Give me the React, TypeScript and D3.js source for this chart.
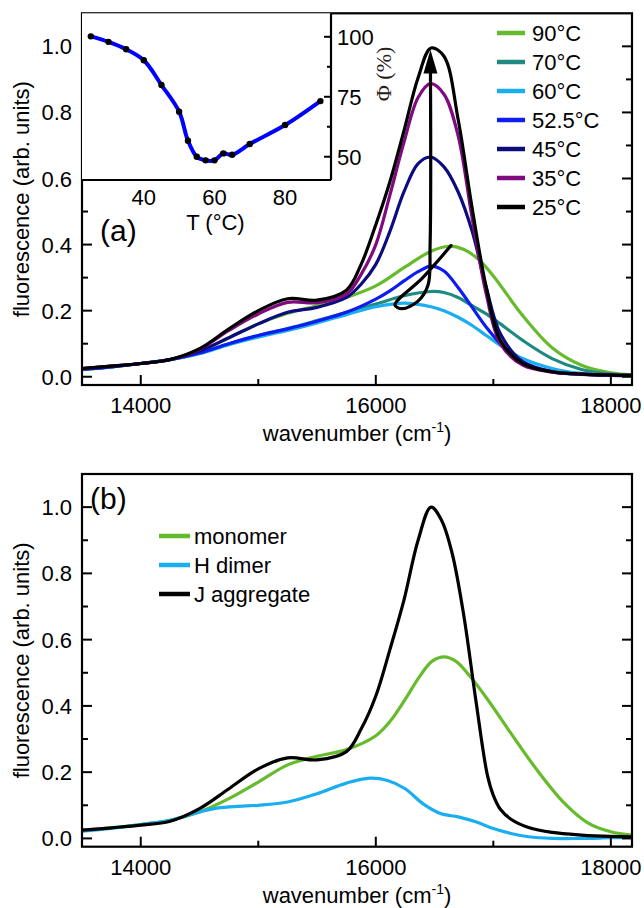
import React from "react";
import * as d3 from "d3";

type Pt = [number, number];

// ---------- data (wavenumber cm^-1, fluorescence arb. units) ----------
const s90: Pt[] = [[13500,0.022],[13750,0.03],[14000,0.04],[14250,0.052],[14500,0.076],[14750,0.118],[15000,0.16],[15250,0.192],[15500,0.215],[15750,0.24],[16000,0.275],[16240,0.33],[16470,0.38],[16620,0.395],[16750,0.385],[16875,0.355],[17000,0.305],[17250,0.185],[17500,0.088],[17750,0.035],[18000,0.012],[18180,0.006]];
const s70: Pt[] = [[13500,0.022],[13750,0.03],[14000,0.04],[14250,0.052],[14500,0.072],[14750,0.1],[15000,0.125],[15250,0.146],[15500,0.17],[15750,0.195],[16000,0.22],[16240,0.245],[16470,0.258],[16580,0.255],[16700,0.24],[16820,0.215],[16940,0.19],[17060,0.16],[17250,0.11],[17500,0.055],[17750,0.022],[18000,0.008],[18180,0.005]];
const s60: Pt[] = [[13500,0.022],[13750,0.03],[14000,0.04],[14250,0.052],[14500,0.07],[14750,0.097],[15000,0.12],[15250,0.14],[15500,0.163],[15750,0.188],[16000,0.212],[16240,0.223],[16470,0.212],[16580,0.2],[16700,0.18],[16820,0.155],[16940,0.125],[17060,0.095],[17250,0.055],[17500,0.025],[17750,0.01],[18000,0.005],[18180,0.004]];
const s525: Pt[] = [[13500,0.022],[13750,0.03],[14000,0.04],[14250,0.052],[14500,0.072],[14750,0.1],[15000,0.125],[15250,0.145],[15500,0.168],[15750,0.195],[16000,0.235],[16120,0.26],[16240,0.29],[16360,0.318],[16470,0.335],[16580,0.32],[16700,0.27],[16820,0.21],[16940,0.15],[17060,0.1],[17250,0.045],[17500,0.015],[17750,0.007],[18000,0.004],[18180,0.003]];
const s45: Pt[] = [[13500,0.025],[13750,0.032],[14000,0.04],[14250,0.052],[14500,0.078],[14750,0.118],[15000,0.16],[15250,0.195],[15500,0.21],[15750,0.24],[15875,0.28],[16000,0.34],[16120,0.44],[16240,0.56],[16360,0.645],[16465,0.665],[16580,0.635],[16700,0.56],[16820,0.44],[16940,0.27],[17060,0.13],[17250,0.045],[17500,0.015],[17750,0.008],[18000,0.005],[18180,0.004]];
const s35: Pt[] = [[13500,0.025],[13750,0.032],[14000,0.04],[14250,0.052],[14500,0.083],[14750,0.14],[15000,0.19],[15250,0.225],[15500,0.224],[15750,0.25],[15875,0.31],[16000,0.4],[16120,0.55],[16240,0.71],[16360,0.845],[16465,0.887],[16580,0.855],[16700,0.73],[16820,0.48],[16940,0.25],[17060,0.1],[17250,0.035],[17500,0.014],[17750,0.008],[18000,0.005],[18180,0.004]];
const s25: Pt[] = [[13500,0.025],[13750,0.032],[14000,0.04],[14250,0.052],[14500,0.085],[14750,0.145],[15000,0.2],[15250,0.236],[15500,0.232],[15750,0.262],[15875,0.34],[16000,0.46],[16120,0.59],[16240,0.745],[16360,0.905],[16470,0.995],[16580,0.97],[16700,0.78],[16820,0.51],[16940,0.27],[17060,0.11],[17250,0.04],[17500,0.015],[17750,0.008],[18000,0.005],[18180,0.004]];

const topLabels = ["90°C", "70°C", "60°C", "52.5°C", "45°C", "35°C", "25°C"];
const topColors = ["#66bb2c", "#1f8a82", "#1aaef0", "#0d1cf0", "#0c0c80", "#800a80", "#000000"];
const topData = [s90, s70, s60, s525, s45, s35, s25];

// annotation arrow path (data coordinates)
const arrowPath: Pt[] = [[16640,0.397],[16400,0.3],[16163,0.217],[16223,0.206],[16359,0.229],[16444,0.277],[16462,0.4],[16465,0.93]];
const arrowTip: Pt = [16465, 0.99];

// bottom panel
const monomer: Pt[] = [[13500,0.025],[13750,0.032],[14000,0.042],[14250,0.055],[14500,0.08],[14750,0.12],[15000,0.17],[15250,0.222],[15500,0.248],[15750,0.268],[16000,0.31],[16125,0.355],[16250,0.42],[16375,0.49],[16480,0.535],[16580,0.548],[16680,0.535],[16800,0.49],[16950,0.42],[17125,0.33],[17375,0.205],[17600,0.108],[17800,0.048],[18000,0.02],[18180,0.01]];
const hDimer: Pt[] = [[13500,0.022],[13750,0.03],[14000,0.042],[14250,0.055],[14500,0.08],[14625,0.09],[14750,0.095],[15000,0.1],[15250,0.11],[15500,0.135],[15750,0.167],[15950,0.182],[16100,0.175],[16250,0.15],[16400,0.105],[16550,0.075],[16700,0.065],[16850,0.05],[17000,0.03],[17150,0.015],[17300,0.005],[17500,0.0],[17750,0.0],[18000,0.002],[18180,0.003]];
const jAgg: Pt[] = [[13500,0.025],[13750,0.032],[14000,0.04],[14250,0.052],[14500,0.09],[14750,0.15],[15000,0.21],[15250,0.243],[15500,0.237],[15750,0.262],[15875,0.33],[16000,0.43],[16120,0.57],[16240,0.72],[16360,0.9],[16470,1.0],[16560,0.96],[16650,0.86],[16750,0.67],[16850,0.42],[16950,0.19],[17000,0.13],[17060,0.088],[17150,0.058],[17300,0.033],[17500,0.018],[17750,0.01],[18000,0.006],[18180,0.005]];
const botLabels = ["monomer", "H dimer", "J aggregate"];
const botColors = ["#66bb2c", "#1aaef0", "#000000"];
const botData = [monomer, hDimer, jAgg];

// inset: temperature vs quantum yield
const insetT = [25, 30, 35, 40, 45, 50, 52.5, 55, 57.5, 60, 62.5, 65, 70, 80, 90];
const insetPhi = [100.2, 97.9, 94.8, 90.2, 79.9, 68.8, 56.7, 50, 48.5, 48.5, 51.4, 50.8, 55.3, 63.2, 73.2];

// ticks
const xMajor = [14000, 16000, 18000];
const xMinor = [15000, 17000];
const yMajor = [0, 0.2, 0.4, 0.6, 0.8, 1.0];
const yMinor = [0.1, 0.3, 0.5, 0.7, 0.9];
const insetXTicks = [40, 60, 80];
const insetYMajor = [50, 75, 100];
const insetYMinor = [62.5, 87.5];

// ---------- layout ----------
const W = 644, H = 908;
const L = 82, R = 632;
const FONT = "'Liberation Sans', Arial, sans-serif";

const x = d3.scaleLinear().domain([13500, 18180]).range([L, R]);
const yTop = d3.scaleLinear().domain([-0.025, 1.1]).range([385, 13.3]);
const yBot = d3.scaleLinear().domain([-0.025, 1.1]).range([846.7, 474]);
const xIn = d3.scaleLinear().domain([22.5, 93]).range([L, 331]);
const yIn = d3.scaleLinear().domain([40.3, 109.8]).range([180, 13.3]);

const fmt = d3.format(".1f");

function Panel({ y, data, colors, tag, tagY }: { y: d3.ScaleLinear<number, number>; data: Pt[][]; colors: string[]; tag: string; tagY: number }) {
  const [y0, y1] = y.range();
  const line = d3.line<Pt>().x(d => x(d[0])).y(d => y(d[1])).curve(d3.curveCatmullRom.alpha(0.5));
  const mid = (y0 + y1) / 2;
  return (
    <g>
      <defs>
        <clipPath id={"clip" + tag}>
          <rect x={L} y={y1} width={R - L} height={y0 - y1} />
        </clipPath>
      </defs>
      <g clipPath={`url(#clip${tag})`}>
        {data.map((d, i) => (
          <path key={i} d={line(d) || ""} fill="none" stroke={colors[i]} strokeWidth={3.2} strokeLinejoin="round" />
        ))}
      </g>
      <rect x={L} y={y1} width={R - L} height={y0 - y1} fill="none" stroke="#000" strokeWidth={2.2} />
      {xMajor.map(v => (
        <g key={"xm" + v}>
          <line x1={x(v)} x2={x(v)} y1={y0} y2={y0 - 10} stroke="#000" strokeWidth={2} />
          <text x={x(v)} y={y0 + 28} textAnchor="middle" fontSize={22} fontFamily={FONT}>{v}</text>
        </g>
      ))}
      {xMinor.map(v => (
        <line key={"xn" + v} x1={x(v)} x2={x(v)} y1={y0} y2={y0 - 6} stroke="#000" strokeWidth={2} />
      ))}
      {yMajor.map(v => (
        <g key={"ym" + v}>
          <line x1={L} x2={L + 10} y1={y(v)} y2={y(v)} stroke="#000" strokeWidth={2} />
          <line x1={R} x2={R - 10} y1={y(v)} y2={y(v)} stroke="#000" strokeWidth={2} />
          <text x={L - 10} y={y(v) + 8} textAnchor="end" fontSize={22} fontFamily={FONT}>{fmt(v)}</text>
        </g>
      ))}
      {yMinor.map(v => (
        <g key={"yn" + v}>
          <line x1={L} x2={L + 6} y1={y(v)} y2={y(v)} stroke="#000" strokeWidth={2} />
          <line x1={R} x2={R - 6} y1={y(v)} y2={y(v)} stroke="#000" strokeWidth={2} />
        </g>
      ))}
      <text x={(L + R) / 2} y={y0 + 56} textAnchor="middle" fontSize={22} fontFamily={FONT}>
        wavenumber (cm<tspan dy={-9} fontSize={14}>-1</tspan><tspan dy={9}>)</tspan>
      </text>
      <text transform={`translate(29,${mid}) rotate(-90)`} textAnchor="middle" fontSize={22} fontFamily={FONT}>
        fluorescence (arb. units)
      </text>
      <text x={tag === "a" ? 100 : 90} y={tagY} fontSize={30} fontFamily={FONT}>({tag})</text>
    </g>
  );
}

function Inset() {
  const pts: Pt[] = insetT.map((t, i) => [t, insetPhi[i]]);
  const line = d3.line<Pt>().x(d => xIn(d[0])).y(d => yIn(d[1])).curve(d3.curveCatmullRom.alpha(0.5));
  const xr = xIn.range();
  const yr = yIn.range();
  return (
    <g>
      <rect x={xr[0]} y={yr[1]} width={xr[1] - xr[0]} height={yr[0] - yr[1]} fill="#fff" />
      <path d={line(pts) || ""} fill="none" stroke="#0000ff" strokeWidth={4} />
      {pts.map((p, i) => (
        <circle key={i} cx={xIn(p[0])} cy={yIn(p[1])} r={3.2} fill="#000" />
      ))}
      <line x1={xr[0]} x2={xr[1]} y1={yr[0]} y2={yr[0]} stroke="#000" strokeWidth={2.2} />
      <line x1={xr[1]} x2={xr[1]} y1={yr[1]} y2={yr[0]} stroke="#000" strokeWidth={2.2} />
      {insetXTicks.map(v => (
        <text key={v} x={xIn(v)} y={yr[0] + 25} textAnchor="middle" fontSize={22} fontFamily={FONT}>{v}</text>
      ))}
      {insetYMajor.map(v => (
        <g key={v}>
          <line x1={xr[1]} x2={xr[1] - 7} y1={yIn(v)} y2={yIn(v)} stroke="#000" strokeWidth={2} />
          <text x={xr[1] + 6} y={yIn(v) + 8} fontSize={22} fontFamily={FONT}>{v}</text>
        </g>
      ))}
      {insetYMinor.map(v => (
        <line key={v} x1={xr[1]} x2={xr[1] - 4} y1={yIn(v)} y2={yIn(v)} stroke="#000" strokeWidth={2} />
      ))}
      <text x={(xIn(40) + xIn(80)) / 2 + 1} y={yr[0] + 50} textAnchor="middle" fontSize={22} fontFamily={FONT}>T (°C)</text>
      <text transform={`translate(391,${yIn(84.5)}) rotate(-90)`} textAnchor="middle" fontSize={22} fontFamily="'Liberation Serif', serif" fill="#2a2016">Φ (%)</text>
    </g>
  );
}

function Legend({ labels, colors, x0, y0, lineLen, gap }: { labels: string[]; colors: string[]; x0: number; y0: number; lineLen: number; gap: number }) {
  return (
    <g>
      {labels.map((l, i) => {
        const yy = y0 + i * 29;
        return (
          <g key={l}>
            <line x1={x0} x2={x0 + lineLen} y1={yy} y2={yy} stroke={colors[i]} strokeWidth={4.5} />
            <text x={x0 + lineLen + gap} y={yy + 8} fontSize={22} fontFamily={FONT}>{l}</text>
          </g>
        );
      })}
    </g>
  );
}

export default function App() {
  const arrowLine = d3.line<Pt>().x(d => x(d[0])).y(d => yTop(d[1])).curve(d3.curveCatmullRom.alpha(0.5));
  const base = arrowPath[arrowPath.length - 1];
  const tipX = x(arrowTip[0]), tipY = yTop(arrowTip[1]);
  const baseY = yTop(base[1]) + 4;
  return (
    <svg width={W} height={H} style={{ position: "absolute", left: 0, top: 0, background: "#fff" }}>
      <rect width={W} height={H} fill="#fff" />
      <Panel y={yTop} data={topData} colors={topColors} tag="a" tagY={241} />
      <path d={arrowLine(arrowPath) || ""} fill="none" stroke="#000" strokeWidth={3.2} strokeLinecap="round" />
      <path d={`M${tipX},${tipY} L${tipX - 7},${baseY} L${tipX + 7},${baseY} Z`} fill="#000" />
      <Inset />
      <Legend labels={topLabels} colors={topColors} x0={497} y0={33} lineLen={28} gap={7} />
      <Panel y={yBot} data={botData} colors={botColors} tag="b" tagY={509} />
      <Legend labels={botLabels} colors={botColors} x0={159} y0={536} lineLen={31} gap={4} />
    </svg>
  );
}
